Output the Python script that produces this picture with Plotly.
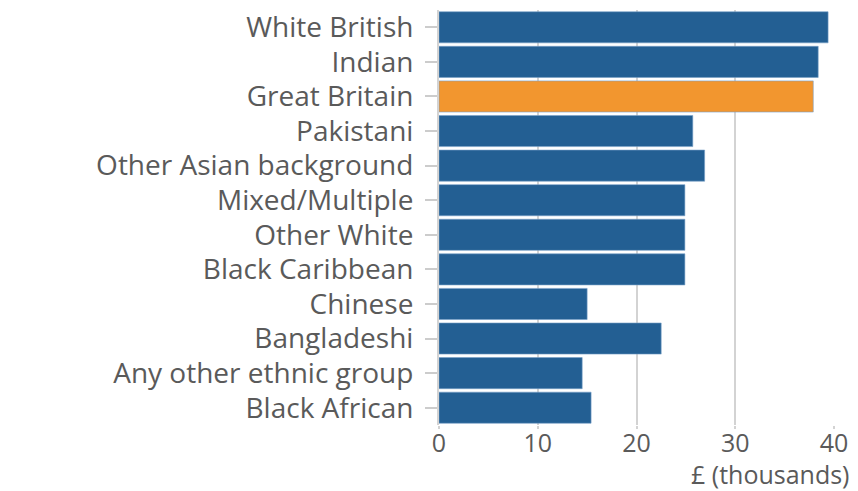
import plotly.graph_objects as go

categories = ["White British", "Indian", "Great Britain", "Pakistani", "Other Asian background",
              "Mixed/Multiple", "Other White", "Black Caribbean", "Chinese", "Bangladeshi",
              "Any other ethnic group", "Black African"]
values = [39.4, 38.4, 37.9, 25.7, 26.9, 24.9, 24.9, 24.9, 15.0, 22.5, 14.5, 15.4]
highlight = "Great Britain"
tick_vals = [0, 10, 20, 30, 40]

colors = ["#f2962f" if c == highlight else "#235f93" for c in categories]

fig = go.Figure(go.Bar(
    x=values, y=categories, orientation="h",
    marker=dict(color=colors, line=dict(color="rgba(120,160,200,0.6)", width=1)),
))

font_color = "#5a5a5a"
fs = 28
fs_x = 25
fig.update_layout(
    width=850, height=483,
    margin=dict(l=431, r=24, t=2, b=66, autoexpand=False),
    plot_bgcolor="white", paper_bgcolor="white",
    font=dict(family="Open Sans", size=fs, color=font_color),
    bargap=0.1,
    showlegend=False,
    xaxis=dict(range=[0, 40], tickvals=tick_vals, showgrid=True, gridcolor="#d3d3d3", gridwidth=2,
               zeroline=False, showline=False, ticks="outside", ticklen=3, tickcolor="#d3d3d3",
               tickwidth=2, ticklabelstandoff=-7,
               tickfont=dict(size=fs_x, color=font_color), automargin=False),
    yaxis=dict(categoryorder="array", categoryarray=categories[::-1], range=[-0.5, 11.5],
               tickmode="linear", tick0=0, dtick=1,
               ticks="outside", ticklen=12, tickcolor="#cccccc", tickwidth=1.5,
               showline=True, linecolor="#d3d3d3", linewidth=2, ticklabelstandoff=6,
               tickfont=dict(size=fs, color=font_color), automargin=False),
    annotations=[dict(text="£ (thousands)", xref="paper", yref="paper", x=1, y=0,
                      xanchor="right", yanchor="middle", yshift=-49, xshift=18, showarrow=False,
                      font=dict(size=fs_x, color=font_color))],
)

fig.write_html("out.html")
